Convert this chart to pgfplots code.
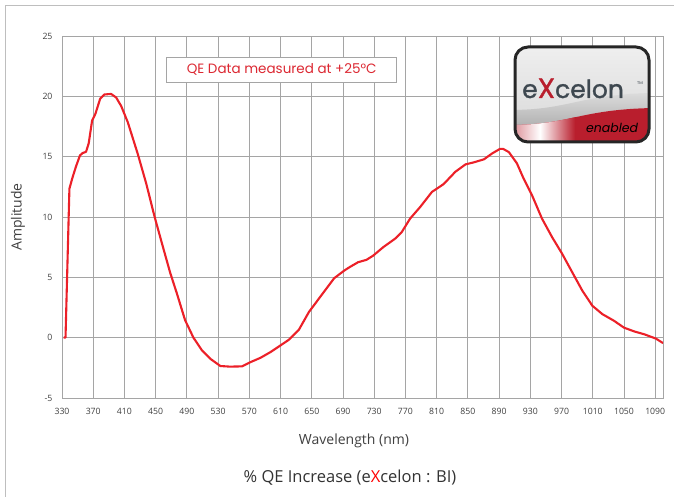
\documentclass[border=0pt]{standalone}
\usepackage{fontspec}
\setmainfont{Open Sans}
\newfontfamily\pop{Poppins}
\newfontfamily\popm[FakeBold=1.2]{Poppins}
\usepackage{pgfplots}
\pgfplotsset{compat=1.18}
\definecolor{curvered}{RGB}{236,32,40}
\definecolor{gridgray}{RGB}{165,165,165}
\definecolor{framegray}{RGB}{190,190,190}
\definecolor{tickgray}{RGB}{64,64,64}
\definecolor{annored}{RGB}{220,40,50}
\definecolor{logored}{RGB}{185,30,45}
\definecolor{logotext}{RGB}{62,72,80}
\pgfplotstableread{
x y
332 0
334.5 0
339.5 12.35
343.6 13.3
348 14.2
353 15.1
356.5 15.3
360.8 15.4
364.2 16.1
368.6 18.0
372.8 18.55
378.9 19.8
384.3 20.15
392.9 20.2
399.4 19.9
405.8 19.2
414.3 17.85
427.2 15.2
438 12.75
448.7 10.0
459.4 7.5
468.5 5.4
477 3.7
487.7 1.45
498.4 0
509.3 -1.05
520 -1.75
532.9 -2.35
545 -2.4
560.6 -2.38
571.4 -2.03
584.3 -1.67
597 -1.2
610 -0.64
620.7 -0.17
633.6 0.67
646.4 2.13
659.3 3.25
678.6 4.92
691.4 5.55
698.6 5.85
709.3 6.25
720.1 6.45
728.7 6.8
741.6 7.5
756.7 8.2
765.3 8.75
776 9.87
788.9 10.83
804 12.08
819 12.73
834 13.75
847 14.36
857.7 14.53
870.6 14.78
881.4 15.28
891.3 15.65
895 15.65
902.5 15.38
912.8 14.45
921.3 13.2
932.2 11.8
945 9.86
957.9 8.33
970.8 6.95
983.7 5.42
996.6 3.9
1009.4 2.65
1022.3 1.95
1037.2 1.4
1050 0.83
1063 0.52
1076 0.28
1091 -0.08
1100 -0.45
}\qedata
\begin{document}
\begin{tikzpicture}[x=1pt,y=1pt]
\useasboundingbox (0,0) rectangle (674,497);
\fill[white] (0,0) rectangle (674,497);
\draw[framegray, line width=1pt] (5,0) -- (5,491) -- (674,491);
\begin{axis}[
  at={(62pt,99pt)}, anchor=south west,
  scale only axis, width=601pt, height=362pt,
  xmin=330, xmax=1100, ymin=-5, ymax=25,
  xtick={330,370,...,1090}, ytick={-5,0,...,25},
  grid=major,
  major grid style={draw=gridgray, line width=0.9pt},
  axis line style={draw=gridgray, line width=0.9pt},
  major tick length=0pt,
  tick label style={font=\fontsize{8.7}{10}\selectfont, text=tickgray},
  xticklabel style={yshift=-7pt},
  yticklabel style={xshift=-6pt},
  /pgf/number format/assume math mode=true,
  /pgf/number format/1000 sep={},
]
\addplot[curvered, line width=2.1pt, line join=round] table[x=x,y=y] {\qedata};
\end{axis}
% axis titles
\node[rotate=90, text=tickgray, font=\fontsize{14}{16}\selectfont] at (18,280) {Amplitude};
\node[text=tickgray, font=\fontsize{14}{16}\selectfont] at (354,56) {Wavelength (nm)};
\node[text=black!80, font=\fontsize{16.5}{18}\selectfont] at (350,19) {\% QE Increase (e\textcolor{red}{X}celon : BI)};
% annotation box
\draw[gridgray, fill=white, line width=0.8pt] (166.7,414.7) rectangle (396.7,439.7);
\node[text=annored, font=\pop\fontsize{13.5}{15}\selectfont] at (281.7,427.2) {QE Data measured at +25°C};
% logo
\begin{scope}
  \path[clip, rounded corners=13pt] (515,355) rectangle (649,450);
  \shade[top color=gray!12, bottom color=gray!32] (510,350) rectangle (655,455);
  \shade[top color=gray!28, bottom color=gray!60]
     (510,387) .. controls (570,387) and (580,403) .. (655,404) -- (655,389) .. controls (580,388) and (570,372) .. (510,372) -- cycle;
  \fill[logored] (510,350) -- (510,372) .. controls (570,372) and (580,388) .. (655,389) -- (655,350) -- cycle;
  \begin{scope}
    \clip (510,350) -- (510,372) .. controls (570,372) and (580,388) .. (655,389) -- (655,350) -- cycle;
    \shade[left color=logored!55!white, right color=white] (510,350) rectangle (540,395);
    \shade[left color=white, right color=logored] (540,350) rectangle (575,395);
  \end{scope}
\end{scope}
\draw[line width=3pt, black!85, rounded corners=13pt] (515,355) rectangle (649,450);
\node[anchor=base west, inner sep=0pt, text=logotext, font=\popm\fontsize{25}{26}\selectfont] at (522,399) {e\textcolor{logored}{\fontsize{28}{28}\selectfont X}celon};
\node[anchor=base west, inner sep=0pt, text=logotext, font=\pop\fontsize{4}{4}\selectfont] at (637,412) {TM};
\node[anchor=base west, inner sep=0pt, text=black, font=\pop\itshape\fontsize{12.5}{13}\selectfont] at (586,364) {enabled};
\end{tikzpicture}
\end{document}
